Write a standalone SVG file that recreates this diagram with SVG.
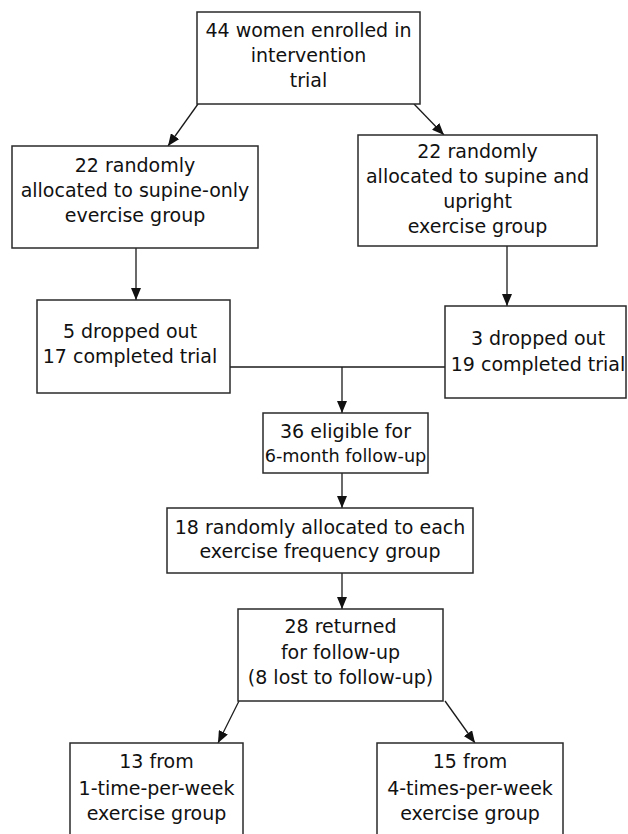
<svg xmlns="http://www.w3.org/2000/svg" width="628" height="834" viewBox="0 0 628 834">
<style>
.box{fill:#fff;stroke:#2a2a2a;stroke-width:1.5}
.t{font-family:"DejaVu Sans","Liberation Sans",sans-serif;font-size:19px;fill:#111;text-anchor:middle}
.s{font-size:17.7px}
.c{fill:none;stroke:#1a1a1a;stroke-width:1.3}
</style>
<defs>
<marker id="ah" markerUnits="userSpaceOnUse" markerWidth="12" markerHeight="10" viewBox="0 0 12 10" refX="12" refY="5" orient="auto">
<path d="M0,0 L12,5 L0,10 Z" fill="#111"/>
</marker>
</defs>
<rect width="628" height="834" fill="#fff"/>
<g id="connectors">
<line class="c" x1="198" y1="104" x2="168" y2="146" marker-end="url(#ah)"/>
<line class="c" x1="414" y1="104" x2="444" y2="135" marker-end="url(#ah)"/>
<line class="c" x1="136" y1="248" x2="136" y2="300" marker-end="url(#ah)"/>
<line class="c" x1="507" y1="246" x2="507" y2="306" marker-end="url(#ah)"/>
<line class="c" x1="230" y1="367" x2="445" y2="367"/>
<line class="c" x1="342" y1="367" x2="342" y2="413" marker-end="url(#ah)"/>
<line class="c" x1="342" y1="473" x2="342" y2="508" marker-end="url(#ah)"/>
<line class="c" x1="342" y1="573" x2="342" y2="609" marker-end="url(#ah)"/>
<line class="c" x1="239" y1="701" x2="218" y2="743" marker-end="url(#ah)"/>
<line class="c" x1="445" y1="701" x2="475" y2="743" marker-end="url(#ah)"/>
</g>
<g id="n_enrolled">
<rect class="box" x="197" y="12" width="223" height="92"/>
<text class="t" x="308.5" y="37">44 women enrolled in</text>
<text class="t" x="308.5" y="62">intervention</text>
<text class="t" x="308.5" y="87">trial</text>
</g>
<g id="n_supine">
<rect class="box" x="12" y="146" width="246" height="102"/>
<text class="t" x="135" y="172">22 randomly</text>
<text class="t" x="135" y="197">allocated to supine-only</text>
<text class="t" x="135" y="222">evercise group</text>
</g>
<g id="n_upright">
<rect class="box" x="358" y="135" width="239" height="111"/>
<text class="t" x="477.5" y="158">22 randomly</text>
<text class="t" x="477.5" y="183">allocated to supine and</text>
<text class="t" x="477.5" y="208">upright</text>
<text class="t" x="477.5" y="233">exercise group</text>
</g>
<g id="n_drop5">
<rect class="box" x="37" y="300" width="193" height="93"/>
<text class="t" x="130" y="338">5 dropped out</text>
<text class="t" x="130" y="363">17 completed trial</text>
</g>
<g id="n_drop3">
<rect class="box" x="445" y="306" width="181" height="92"/>
<text class="t" x="538" y="345">3 dropped out</text>
<text class="t" x="538" y="371">19 completed trial</text>
</g>
<g id="n_eligible">
<rect class="box" x="263" y="413" width="165" height="60"/>
<text class="t" x="345.5" y="438">36 eligible for</text>
<text class="t s" x="345.5" y="462">6-month follow-up</text>
</g>
<g id="n_freq">
<rect class="box" x="167" y="508" width="306" height="65"/>
<text class="t" x="320" y="534">18 randomly allocated to each</text>
<text class="t" x="320" y="558">exercise frequency group</text>
</g>
<g id="n_returned">
<rect class="box" x="238" y="609" width="205" height="92"/>
<text class="t" x="340.5" y="633">28 returned</text>
<text class="t" x="340.5" y="659">for follow-up</text>
<text class="t" x="340.5" y="684">(8 lost to follow-up)</text>
</g>
<g id="n_once">
<rect class="box" x="70" y="743" width="173" height="100"/>
<text class="t" x="156.5" y="768">13 from</text>
<text class="t" x="156.5" y="795">1-time-per-week</text>
<text class="t" x="156.5" y="820">exercise group</text>
</g>
<g id="n_four">
<rect class="box" x="377" y="743" width="186" height="100"/>
<text class="t" x="470" y="768">15 from</text>
<text class="t" x="470" y="795">4-times-per-week</text>
<text class="t" x="470" y="820">exercise group</text>
</g>
</svg>
